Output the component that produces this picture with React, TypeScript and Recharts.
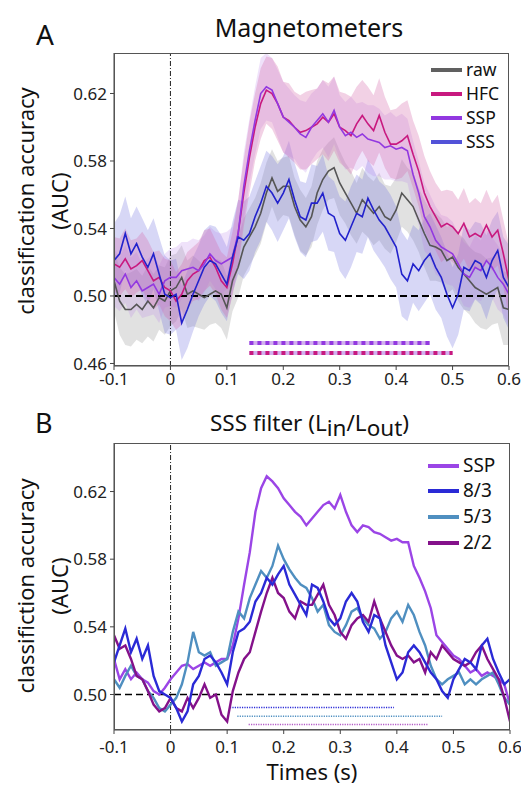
import React from "react";
import { ComposedChart, Line, Area, XAxis, YAxis, ReferenceLine } from "recharts";

// time axis (s)
const times = [
  -0.1, -0.09, -0.08, -0.07, -0.06, -0.05, -0.04, -0.03, -0.02, -0.01, 0,
  0.01, 0.02, 0.03, 0.04, 0.05, 0.06, 0.07, 0.08, 0.09, 0.1,
  0.11, 0.12, 0.13, 0.14, 0.15, 0.16, 0.17, 0.18, 0.19, 0.2,
  0.21, 0.22, 0.23, 0.24, 0.25, 0.26, 0.27, 0.28, 0.29, 0.3,
  0.31, 0.32, 0.33, 0.34, 0.35, 0.36, 0.37, 0.38, 0.39, 0.4,
  0.41, 0.42, 0.43, 0.44, 0.45, 0.46, 0.47, 0.48, 0.49, 0.5,
  0.51, 0.52, 0.53, 0.54, 0.55, 0.56, 0.57, 0.58, 0.59, 0.6,
];

// Panel A: magnetometers
const rawA = [
  0.509, 0.497, 0.492, 0.492, 0.495, 0.492, 0.497, 0.493, 0.499, 0.497, 0.503,
  0.505, 0.511, 0.501, 0.503, 0.501, 0.499, 0.501, 0.503, 0.501, 0.493,
  0.509, 0.517, 0.529, 0.535, 0.541, 0.549, 0.561, 0.570, 0.562, 0.565,
  0.565, 0.553, 0.545, 0.541, 0.547, 0.561, 0.569, 0.574, 0.576, 0.567,
  0.561, 0.555, 0.549, 0.557, 0.553, 0.549, 0.553, 0.547, 0.545, 0.551,
  0.561, 0.557, 0.553, 0.545, 0.537, 0.530, 0.529, 0.527, 0.521, 0.523,
  0.517, 0.513, 0.509, 0.505, 0.503, 0.501, 0.503, 0.505, 0.493, 0.492,
];
const hfcA = [
  0.519, 0.517, 0.522, 0.516, 0.518, 0.521, 0.515, 0.509, 0.511, 0.505, 0.503,
  0.497, 0.501, 0.509, 0.513, 0.515, 0.521, 0.523, 0.517, 0.509, 0.505,
  0.519, 0.537, 0.561, 0.582, 0.600, 0.614, 0.622, 0.620, 0.614, 0.606,
  0.604, 0.600, 0.597, 0.598, 0.600, 0.602, 0.606, 0.603, 0.608, 0.600,
  0.598, 0.595, 0.602, 0.607, 0.602, 0.598, 0.607, 0.597, 0.590, 0.590,
  0.592, 0.595, 0.584, 0.574, 0.561, 0.553, 0.547, 0.541, 0.543, 0.541,
  0.537, 0.543, 0.535, 0.537, 0.535, 0.542, 0.535, 0.539, 0.525, 0.509,
];
const sspA = [
  0.511, 0.507, 0.513, 0.505, 0.509, 0.503, 0.505, 0.507, 0.501, 0.509, 0.511,
  0.511, 0.515, 0.516, 0.517, 0.515, 0.519, 0.525, 0.521, 0.519, 0.521,
  0.523, 0.537, 0.565, 0.586, 0.604, 0.620, 0.624, 0.622, 0.614, 0.606,
  0.603, 0.600, 0.596, 0.594, 0.600, 0.604, 0.608, 0.603, 0.610, 0.600,
  0.595, 0.597, 0.594, 0.596, 0.593, 0.592, 0.591, 0.588, 0.589, 0.587,
  0.588, 0.586, 0.572, 0.561, 0.547, 0.541, 0.533, 0.529, 0.527, 0.525,
  0.519, 0.513, 0.511, 0.517, 0.515, 0.521, 0.517, 0.511, 0.507, 0.501,
];
const sssA = [
  0.521, 0.525, 0.537, 0.525, 0.531, 0.523, 0.517, 0.525, 0.513, 0.501, 0.499,
  0.501, 0.484, 0.492, 0.501, 0.509, 0.517, 0.521, 0.519, 0.513, 0.507,
  0.523, 0.535, 0.533, 0.537, 0.547, 0.555, 0.565, 0.561, 0.555, 0.561,
  0.569, 0.557, 0.547, 0.545, 0.555, 0.555, 0.561, 0.549, 0.547, 0.537,
  0.533, 0.541, 0.549, 0.547, 0.558, 0.551, 0.545, 0.541, 0.535, 0.529,
  0.513, 0.509, 0.519, 0.515, 0.521, 0.525, 0.517, 0.511, 0.501, 0.493,
  0.501, 0.517, 0.515, 0.521, 0.519, 0.511, 0.521, 0.527, 0.511, 0.505,
];

// half-widths of the shaded bands
const rawErr = [
  0.018, 0.020, 0.021, 0.022, 0.021, 0.020, 0.021, 0.020, 0.019, 0.020, 0.021,
  0.020, 0.019, 0.020, 0.021, 0.020, 0.019, 0.018, 0.019, 0.020, 0.019,
  0.018, 0.018, 0.017, 0.017, 0.017, 0.018, 0.018, 0.017, 0.018, 0.017,
  0.018, 0.017, 0.018, 0.017, 0.018, 0.019, 0.018, 0.017, 0.018, 0.019,
  0.018, 0.019, 0.018, 0.019, 0.018, 0.019, 0.020, 0.019, 0.020, 0.019,
  0.020, 0.019, 0.020, 0.019, 0.020, 0.021, 0.020, 0.019, 0.020, 0.019,
  0.020, 0.021, 0.020, 0.021, 0.022, 0.021, 0.020, 0.021, 0.022, 0.021,
];
const hfcErr = [
  0.016, 0.017, 0.018, 0.017, 0.016, 0.017, 0.018, 0.017, 0.016, 0.017, 0.018,
  0.017, 0.018, 0.017, 0.016, 0.017, 0.018, 0.017, 0.016, 0.017, 0.018,
  0.019, 0.020, 0.020, 0.021, 0.020, 0.021, 0.020, 0.021, 0.022, 0.021,
  0.022, 0.021, 0.022, 0.023, 0.022, 0.021, 0.022, 0.023, 0.022, 0.021,
  0.022, 0.023, 0.022, 0.021, 0.022, 0.021, 0.022, 0.021, 0.020, 0.021,
  0.022, 0.021, 0.020, 0.021, 0.022, 0.021, 0.020, 0.021, 0.020, 0.021,
  0.020, 0.021, 0.020, 0.021, 0.020, 0.021, 0.020, 0.021, 0.020, 0.021,
];
const sspErr = [
  0.017, 0.016, 0.017, 0.018, 0.017, 0.016, 0.017, 0.018, 0.017, 0.016, 0.017,
  0.018, 0.017, 0.016, 0.017, 0.018, 0.017, 0.016, 0.017, 0.018, 0.017,
  0.018, 0.019, 0.020, 0.019, 0.020, 0.021, 0.020, 0.019, 0.020, 0.021,
  0.020, 0.019, 0.020, 0.021, 0.020, 0.019, 0.020, 0.021, 0.020, 0.019,
  0.020, 0.021, 0.020, 0.019, 0.020, 0.021, 0.020, 0.019, 0.020, 0.019,
  0.020, 0.019, 0.020, 0.019, 0.020, 0.019, 0.020, 0.019, 0.020, 0.019,
  0.018, 0.019, 0.018, 0.019, 0.018, 0.019, 0.018, 0.019, 0.018, 0.019,
];
const sssErr = [
  0.022, 0.023, 0.022, 0.021, 0.022, 0.023, 0.022, 0.021, 0.022, 0.023, 0.022,
  0.021, 0.022, 0.023, 0.022, 0.021, 0.022, 0.021, 0.022, 0.023, 0.022,
  0.021, 0.022, 0.023, 0.022, 0.021, 0.022, 0.021, 0.022, 0.023, 0.022,
  0.023, 0.022, 0.021, 0.022, 0.023, 0.022, 0.023, 0.022, 0.021, 0.022,
  0.023, 0.024, 0.023, 0.022, 0.023, 0.024, 0.023, 0.024, 0.025, 0.024,
  0.025, 0.024, 0.023, 0.024, 0.025, 0.024, 0.025, 0.024, 0.025, 0.024,
  0.024, 0.025, 0.024, 0.023, 0.024, 0.025, 0.024, 0.023, 0.024, 0.025,
];

// Panel B: SSS filter orders
const sspB = [
  0.521, 0.509, 0.515, 0.509, 0.513, 0.509, 0.507, 0.502, 0.500, 0.504, 0.509,
  0.513, 0.517, 0.518, 0.515, 0.517, 0.519, 0.517, 0.519, 0.521, 0.521,
  0.529, 0.545, 0.565, 0.584, 0.608, 0.622, 0.629, 0.626, 0.622, 0.616,
  0.612, 0.608, 0.605, 0.600, 0.604, 0.608, 0.612, 0.614, 0.610, 0.618,
  0.608, 0.600, 0.596, 0.600, 0.599, 0.596, 0.595, 0.593, 0.591, 0.592,
  0.590, 0.590, 0.576, 0.569, 0.561, 0.551, 0.535, 0.531, 0.527, 0.523,
  0.521, 0.517, 0.513, 0.515, 0.511, 0.513, 0.511, 0.509, 0.506, 0.494,
];
const b83 = [
  0.519, 0.529, 0.539, 0.525, 0.533, 0.521, 0.529, 0.511, 0.502, 0.500, 0.498,
  0.492, 0.484, 0.490, 0.506, 0.511, 0.521, 0.523, 0.519, 0.513, 0.506,
  0.525, 0.537, 0.539, 0.543, 0.555, 0.560, 0.569, 0.565, 0.571, 0.576,
  0.565, 0.559, 0.553, 0.547, 0.565, 0.563, 0.555, 0.545, 0.541, 0.545,
  0.555, 0.560, 0.555, 0.543, 0.537, 0.547, 0.545, 0.529, 0.519, 0.509,
  0.513, 0.525, 0.529, 0.525, 0.519, 0.513, 0.509, 0.502, 0.498, 0.509,
  0.515, 0.521, 0.519, 0.515, 0.529, 0.533, 0.521, 0.513, 0.506, 0.509,
];
const b53 = [
  0.509, 0.504, 0.511, 0.517, 0.511, 0.509, 0.502, 0.498, 0.492, 0.490, 0.494,
  0.498, 0.506, 0.519, 0.537, 0.525, 0.523, 0.525, 0.517, 0.519, 0.521,
  0.537, 0.549, 0.545, 0.557, 0.565, 0.573, 0.569, 0.576, 0.588, 0.580,
  0.574, 0.569, 0.565, 0.563, 0.557, 0.549, 0.553, 0.541, 0.537, 0.535,
  0.541, 0.549, 0.551, 0.545, 0.541, 0.539, 0.533, 0.537, 0.545, 0.549,
  0.543, 0.553, 0.547, 0.537, 0.529, 0.517, 0.509, 0.506, 0.509, 0.511,
  0.513, 0.506, 0.509, 0.506, 0.509, 0.511, 0.513, 0.506, 0.498, 0.494,
];
const b22 = [
  0.535, 0.527, 0.529, 0.521, 0.511, 0.509, 0.502, 0.494, 0.490, 0.492, 0.498,
  0.492, 0.490, 0.498, 0.492, 0.498, 0.506, 0.498, 0.500, 0.488, 0.484,
  0.502, 0.513, 0.521, 0.525, 0.537, 0.549, 0.560, 0.569, 0.560, 0.557,
  0.549, 0.545, 0.555, 0.553, 0.553, 0.559, 0.565, 0.553, 0.547, 0.537,
  0.533, 0.541, 0.545, 0.547, 0.543, 0.555, 0.545, 0.537, 0.529, 0.523,
  0.521, 0.523, 0.519, 0.521, 0.513, 0.525, 0.521, 0.529, 0.525, 0.521,
  0.519, 0.517, 0.519, 0.525, 0.529, 0.521, 0.515, 0.509, 0.498, 0.484,
];

// significant time windows (s)
const sigStartA = [0.14, 0.14]; // SSP, HFC
const sigEndA = [0.46, 0.5];
const sigStartB = [0.105, 0.118, 0.138]; // 8/3, 5/3, 2/2
const sigEndB = [0.395, 0.48, 0.455];

const xTicks = [-0.1, 0, 0.1, 0.2, 0.3, 0.4, 0.5, 0.6];
const yTicksA = [0.46, 0.5, 0.54, 0.58, 0.62];
const yTicksB = [0.5, 0.54, 0.58, 0.62];

const C = {
  raw: "#555555",
  hfc: "#c8197f",
  ssp: "#9238e0",
  sss: "#2222cc",
  sspB: "#9b45e6",
  b83: "#2a2ad6",
  b53: "#4f8fc0",
  b22: "#84118a",
};

const band = (v: number[], e: number[], i: number) => [v[i] - e[i], v[i] + e[i]];

const dataA = times.map((t, i) => ({
  t,
  raw: rawA[i],
  hfc: hfcA[i],
  ssp: sspA[i],
  sss: sssA[i],
  rawBand: band(rawA, rawErr, i),
  hfcBand: band(hfcA, hfcErr, i),
  sspBand: band(sspA, sspErr, i),
  sssBand: band(sssA, sssErr, i),
}));

const dataB = times.map((t, i) => ({
  t,
  ssp: sspB[i],
  b83: b83[i],
  b53: b53[i],
  b22: b22[i],
}));

const FONT = "'Noto Sans', 'DejaVu Sans', sans-serif";
const fmtX = (v: number) => (v === 0 ? "0" : v.toFixed(1));
const fmtY = (v: number) => v.toFixed(2);
const tickStyle = { fill: "#222", fontSize: 17 };

// text placed by its baseline
const Txt = ({ x, base, size, anchor = "start", children }: any) => {
  const shift = anchor === "middle" ? "-50%" : anchor === "end" ? "-100%" : "0";
  return (
    <div
      style={{
        position: "absolute",
        left: x,
        top: base - 0.888 * size,
        fontSize: size,
        lineHeight: `${size}px`,
        whiteSpace: "nowrap",
        transform: `translateX(${shift})`,
        color: "#111",
      }}
    >
      {children}
    </div>
  );
};

const VTxt = ({ cx, cy, size, children }: any) => (
  <div
    style={{
      position: "absolute",
      left: cx,
      top: cy,
      fontSize: size,
      lineHeight: `${size}px`,
      whiteSpace: "nowrap",
      transform: "translate(-50%, -50%) rotate(-90deg)",
      color: "#111",
    }}
  >
    {children}
  </div>
);

const LegendRow = ({ x, y, color, label, w = 3.5, size = 17.5 }: any) => (
  <>
    <div
      style={{
        position: "absolute",
        left: x,
        top: y - w / 2,
        width: 31,
        height: w,
        background: color,
      }}
    />
    <Txt x={x + 35} base={y + 0.36 * size} size={size}>
      {label}
    </Txt>
  </>
);

const Frame = ({ left, top, width, height }: any) => (
  <div
    style={{
      position: "absolute",
      left,
      top,
      width,
      height,
      boxSizing: "border-box",
      border: "1px solid #555",
      pointerEvents: "none",
    }}
  />
);

const App = () => {
  const sigLevelsA = [0.4721, 0.4662];
  const sigLevelsB = [0.4923, 0.4872, 0.4822];
  const sigColorsB = [C.b83, C.b53, "#b35ac6"];
  return (
    <div
      style={{
        position: "absolute",
        left: 0,
        top: 0,
        width: 521,
        height: 785,
        background: "#fff",
        fontFamily: FONT,
        overflow: "hidden",
      }}
    >
      <div style={{ position: "absolute", left: 0, top: 0 }}>
        <ComposedChart
          width={521}
          height={400}
          data={dataA}
          margin={{ top: 53, right: 12, bottom: 4, left: 54 }}
        >
          <XAxis
            dataKey="t"
            type="number"
            domain={[-0.1, 0.6]}
            ticks={xTicks}
            tickFormatter={fmtX}
            allowDataOverflow
            height={30}
            tickSize={4}
            tickMargin={3}
            tick={tickStyle}
            stroke="#444"
          />
          <YAxis
            type="number"
            domain={[0.4585, 0.644]}
            ticks={yTicksA}
            tickFormatter={fmtY}
            allowDataOverflow
            width={60}
            tickSize={4}
            tickMargin={3}
            tick={tickStyle}
            stroke="#444"
          />
          <Area dataKey="rawBand" stroke="none" fill="#9a9a9a" fillOpacity={0.3} isAnimationActive={false} />
          <Area dataKey="sssBand" stroke="none" fill="#6e6ee0" fillOpacity={0.28} isAnimationActive={false} />
          <Area dataKey="sspBand" stroke="none" fill="#b67ae6" fillOpacity={0.22} isAnimationActive={false} />
          <Area dataKey="hfcBand" stroke="none" fill="#d468a8" fillOpacity={0.3} isAnimationActive={false} />
          <ReferenceLine x={0} stroke="#222" strokeWidth={1} strokeDasharray="5 2 1 2" />
          <ReferenceLine y={0.5} stroke="#000" strokeWidth={2} strokeDasharray="7 4" />
          <Line dataKey="raw" stroke={C.raw} strokeWidth={1.6} dot={false} isAnimationActive={false} />
          <Line dataKey="hfc" stroke={C.hfc} strokeWidth={1.6} dot={false} isAnimationActive={false} />
          <Line dataKey="ssp" stroke={C.ssp} strokeWidth={1.6} dot={false} isAnimationActive={false} />
          <Line dataKey="sss" stroke={C.sss} strokeWidth={1.6} dot={false} isAnimationActive={false} />
          {sigStartA.map((s, i) => (
            <ReferenceLine
              key={`sa-bg-${i}`}
              segment={[
                { x: s, y: sigLevelsA[i] },
                { x: sigEndA[i], y: sigLevelsA[i] },
              ]}
              stroke="#d2b0ee"
              strokeWidth={4}
            />
          ))}
          {sigStartA.map((s, i) => (
            <ReferenceLine
              key={`sa-fg-${i}`}
              segment={[
                { x: s, y: sigLevelsA[i] },
                { x: sigEndA[i], y: sigLevelsA[i] },
              ]}
              stroke={i === 0 ? C.ssp : C.hfc}
              strokeWidth={4}
              strokeDasharray="4 4"
            />
          ))}
        </ComposedChart>
      </div>

      <div style={{ position: "absolute", left: 0, top: 400 }}>
        <ComposedChart
          width={521}
          height={385}
          data={dataB}
          margin={{ top: 43, right: 11, bottom: 25, left: 54 }}
        >
          <XAxis
            dataKey="t"
            type="number"
            domain={[-0.1, 0.6]}
            ticks={xTicks}
            tickFormatter={fmtX}
            allowDataOverflow
            height={30}
            tickSize={4}
            tickMargin={7}
            tick={tickStyle}
            stroke="#444"
          />
          <YAxis
            type="number"
            domain={[0.479, 0.6487]}
            ticks={yTicksB}
            tickFormatter={fmtY}
            allowDataOverflow
            width={60}
            tickSize={4}
            tickMargin={3}
            tick={tickStyle}
            stroke="#444"
          />
          <ReferenceLine x={0} stroke="#222" strokeWidth={1} strokeDasharray="5 2 1 2" />
          <ReferenceLine y={0.5} stroke="#000" strokeWidth={1.6} strokeDasharray="7 4" />
          {sigStartB.map((s, i) => (
            <ReferenceLine
              key={`sb-${i}`}
              segment={[
                { x: s, y: sigLevelsB[i] },
                { x: sigEndB[i], y: sigLevelsB[i] },
              ]}
              stroke={sigColorsB[i]}
              strokeWidth={1.5}
              strokeDasharray="1.2 1.2"
            />
          ))}
          <Line dataKey="ssp" stroke={C.sspB} strokeWidth={2.4} dot={false} isAnimationActive={false} />
          <Line dataKey="b53" stroke={C.b53} strokeWidth={2.4} dot={false} isAnimationActive={false} />
          <Line dataKey="b22" stroke={C.b22} strokeWidth={2.4} dot={false} isAnimationActive={false} />
          <Line dataKey="b83" stroke={C.b83} strokeWidth={2.4} dot={false} isAnimationActive={false} />
        </ComposedChart>
      </div>

      <Frame left={114} top={53} width={395} height={313} />
      <Frame left={114} top={443} width={396} height={287} />

      {/* panel A texts */}
      <Txt x={36} base={45} size={28}>A</Txt>
      <Txt x={309} base={37} size={25} anchor="middle">Magnetometers</Txt>
      <VTxt cx={25} cy={201} size={22}>classification accuracy</VTxt>
      <VTxt cx={59} cy={201} size={22}>(AUC)</VTxt>
      <LegendRow x={431} y={70} color="#606060" label="raw" />
      <LegendRow x={431} y={94} color={C.hfc} label="HFC" />
      <LegendRow x={431} y={118} color={C.ssp} label="SSP" />
      <LegendRow x={431} y={142} color="#5252d8" label="SSS" />

      {/* panel B texts */}
      <Txt x={35} base={433} size={27}>B</Txt>
      <Txt x={210} base={432} size={22.5}>
        SSS filter (L<span style={{ position: "relative", top: 5 }}>in</span>/L
        <span style={{ position: "relative", top: 5 }}>out</span>)
      </Txt>
      <VTxt cx={25} cy={586} size={22}>classifiction accuracy</VTxt>
      <VTxt cx={59} cy={586} size={22}>(AUC)</VTxt>
      <LegendRow x={428} y={466} color={C.sspB} label="SSP" w={4} size={19} />
      <LegendRow x={428} y={491} color={C.b83} label="8/3" w={4} size={19} />
      <LegendRow x={428} y={517} color={C.b53} label="5/3" w={4} size={19} />
      <LegendRow x={428} y={543} color={C.b22} label="2/2" w={4} size={19} />
      <Txt x={312} base={780} size={22} anchor="middle">Times (s)</Txt>
    </div>
  );
};

export default App;
